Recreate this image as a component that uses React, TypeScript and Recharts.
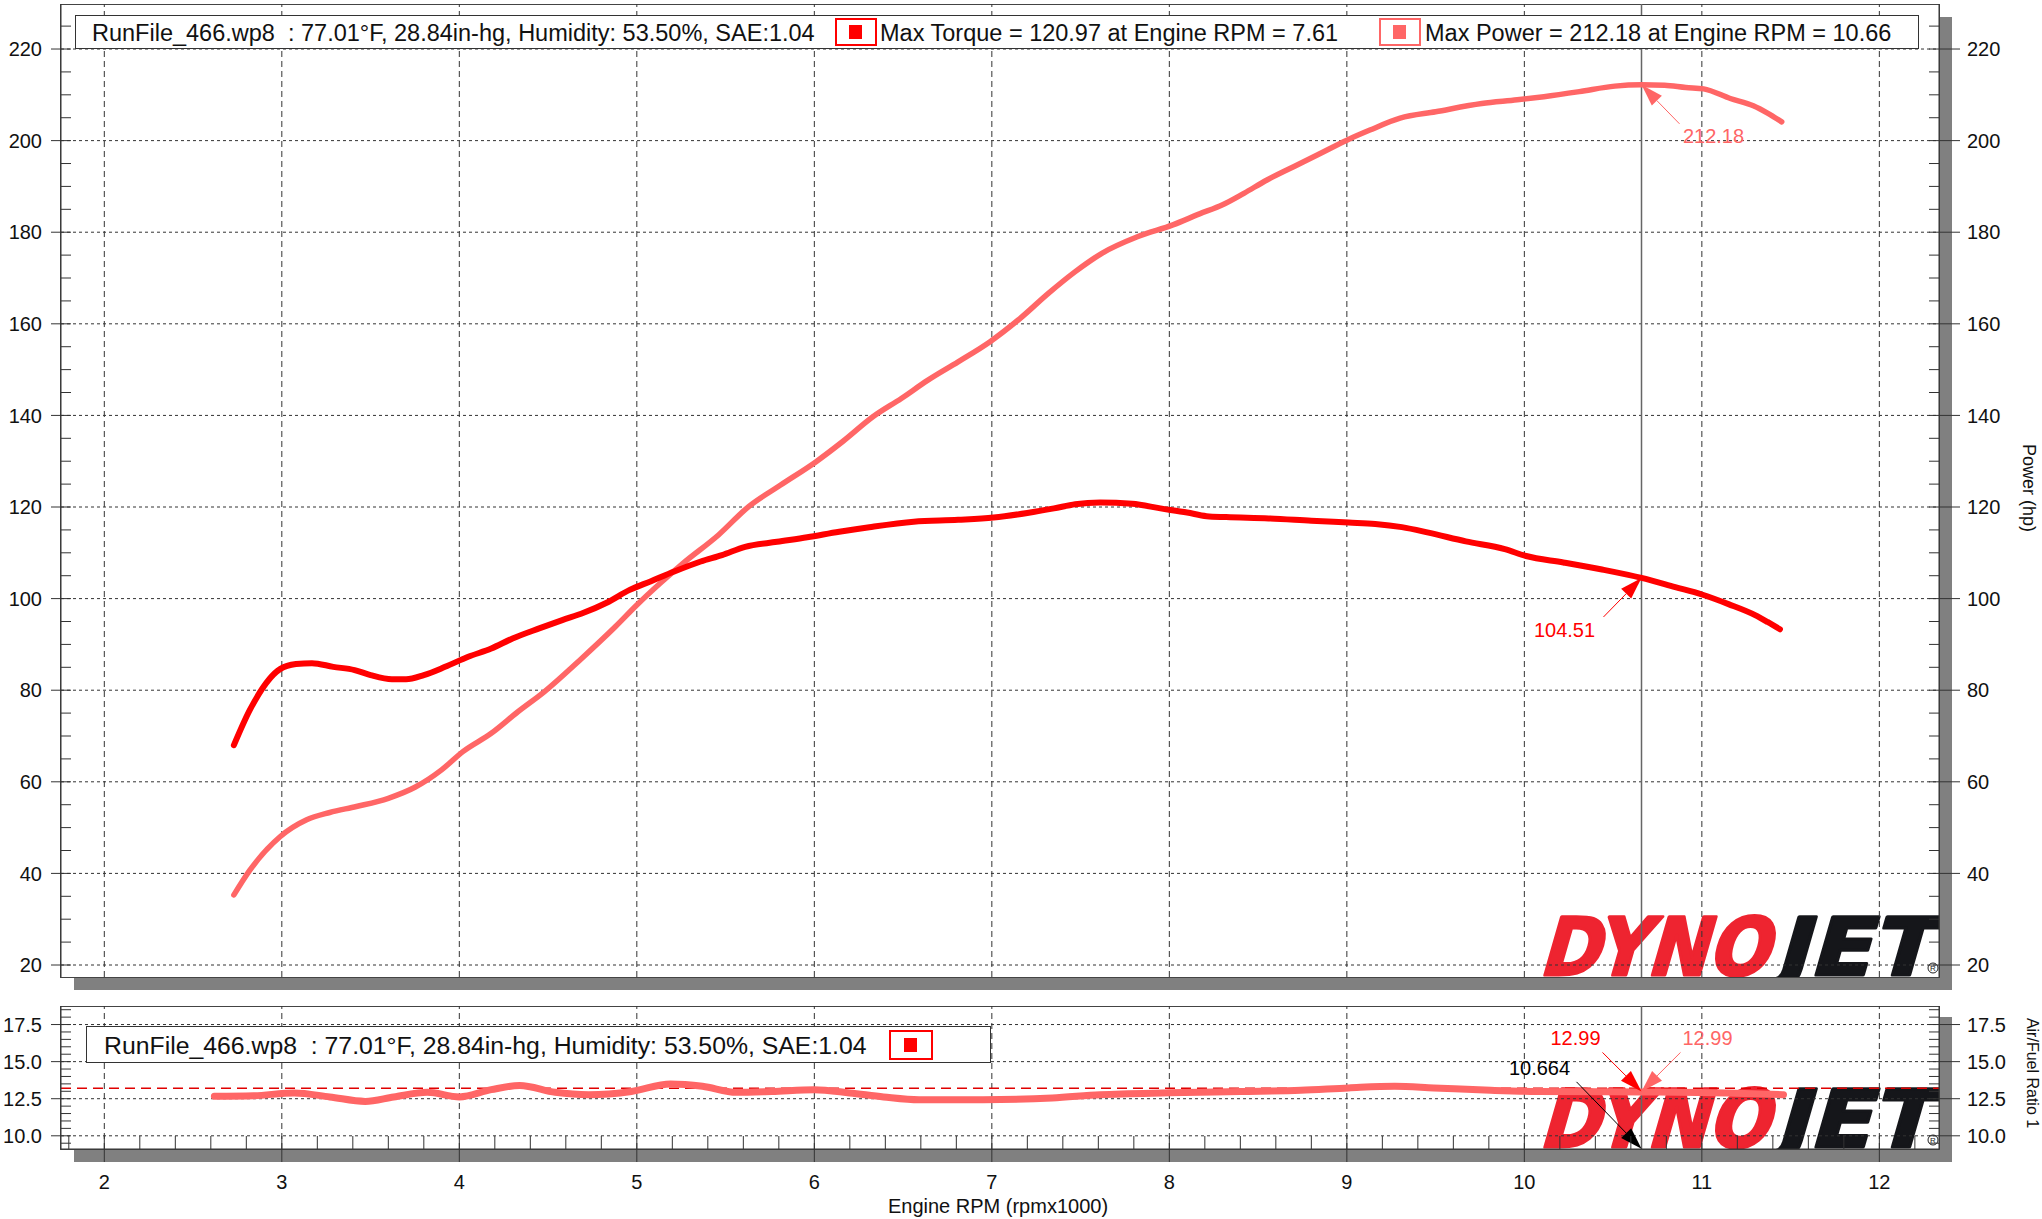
import React from "react";
import { LineChart, Line, XAxis, YAxis, ReferenceLine, ReferenceDot } from "recharts";

const FONT = '"Liberation Sans", Arial, sans-serif';

// torque (deep red)
const torqueRpm = [2.73, 2.82, 2.99, 3.08, 3.17, 3.29, 3.41, 3.5, 3.62, 3.7, 3.8, 3.92, 4.05, 4.18, 4.3, 4.45, 4.58, 4.7, 4.83, 4.96, 5.08, 5.21, 5.36, 5.48, 5.61, 5.79, 5.96, 6.14, 6.31, 6.56, 6.81, 7.01, 7.2, 7.35, 7.47, 7.61, 7.79, 7.95, 8.1, 8.21, 8.32, 8.56, 8.8, 9.01, 9.16, 9.31, 9.46, 9.67, 9.89, 10.01, 10.22, 10.43, 10.66, 10.85, 11.0, 11.15, 11.3, 11.37, 11.44];
const torqueVal = [68.0, 75.7, 84.6, 85.7, 85.9, 85.1, 84.4, 83.3, 82.4, 82.4, 83.3, 85.1, 87.3, 89.1, 91.3, 93.5, 95.3, 96.9, 99.1, 101.9, 103.8, 105.9, 108.1, 109.5, 111.3, 112.4, 113.4, 114.6, 115.6, 116.8, 117.2, 117.7, 118.7, 119.7, 120.6, 120.97, 120.7, 119.7, 118.8, 118.0, 117.8, 117.5, 117.0, 116.6, 116.3, 115.6, 114.4, 112.5, 110.8, 109.3, 107.9, 106.4, 104.51, 102.5, 100.9, 98.8, 96.4, 94.9, 93.3];

// power (light red)
const powerRpm = [2.73, 2.82, 2.99, 3.14, 3.27, 3.42, 3.6, 3.75, 3.9, 4.02, 4.18, 4.33, 4.48, 4.68, 4.88, 5.0, 5.13, 5.26, 5.46, 5.63, 5.81, 6.01, 6.16, 6.33, 6.49, 6.64, 6.81, 6.99, 7.16, 7.32, 7.47, 7.62, 7.82, 8.02, 8.17, 8.3, 8.42, 8.55, 8.7, 8.85, 9.0, 9.13, 9.3, 9.5, 9.76, 9.96, 10.11, 10.31, 10.51, 10.66, 10.79, 10.91, 11.01, 11.16, 11.29, 11.37, 11.45];
const powerVal = [35.3, 40.7, 48.0, 51.7, 53.3, 54.6, 56.4, 58.8, 62.6, 66.6, 70.6, 75.3, 79.7, 86.6, 93.9, 98.6, 103.3, 107.7, 113.9, 120.1, 124.8, 129.9, 134.3, 139.7, 143.7, 147.7, 151.7, 156.1, 161.2, 166.7, 171.4, 175.4, 179.0, 181.6, 184.0, 186.0, 188.5, 191.4, 194.3, 197.2, 200.1, 202.3, 204.9, 206.3, 208.1, 208.9, 209.6, 210.7, 211.9, 212.18, 212.1, 211.6, 211.3, 209.2, 207.6, 206.0, 204.1];

// air/fuel ratio, lower panel
const afrRpm = [2.62, 2.84, 3.07, 3.27, 3.47, 3.63, 3.82, 4.0, 4.18, 4.34, 4.54, 4.73, 4.97, 5.19, 5.37, 5.56, 5.76, 6.0, 6.2, 6.39, 6.59, 6.95, 7.34, 7.61, 8.0, 8.4, 8.74, 9.01, 9.27, 9.49, 9.81, 10.07, 10.66, 11.14, 11.46];
const afrVal = [12.66, 12.7, 12.89, 12.62, 12.32, 12.62, 12.93, 12.62, 13.11, 13.39, 12.93, 12.77, 12.99, 13.5, 13.34, 12.93, 12.99, 13.11, 12.89, 12.62, 12.43, 12.43, 12.55, 12.77, 12.9, 12.99, 13.07, 13.23, 13.34, 13.23, 13.07, 12.99, 12.96, 12.89, 12.77];

const rpmTicks = [2, 3, 4, 5, 6, 7, 8, 9, 10, 11, 12];
const hpTicks = [20, 40, 60, 80, 100, 120, 140, 160, 180, 200, 220];
const afrTicks = [10, 12.5, 15, 17.5];

const cursorRpm = 10.66;
const cursorRpmText = "10.664";
const cursorTorque = 104.51;
const cursorPower = 212.18;
const cursorAfr = 12.99;
const afrTarget = 13.2;

const runText = "RunFile_466.wp8  : 77.01°F, 28.84in-hg, Humidity: 53.50%, SAE:1.04";
const torqueLegend = "Max Torque = 120.97 at Engine RPM = 7.61";
const powerLegend = "Max Power = 212.18 at Engine RPM = 10.66";

const RED = "#ff0000";
const PINK = "#ff6666";
const GRID = "#333";

const X_DOMAIN: [number, number] = [1.756, 12.336];
const HP_DOMAIN: [number, number] = [17.38, 229.83];
const AFR_DOMAIN: [number, number] = [9.11, 18.75];

const torqueData = torqueRpm.map((r, i) => ({ rpm: r, v: torqueVal[i] }));
const powerData = powerRpm.map((r, i) => ({ rpm: r, v: powerVal[i] }));
const afrData = afrRpm.map((r, i) => ({ rpm: r, v: afrVal[i] }));

// minor tick positions
const hpMinor: number[] = [];
for (let v = 20; v <= 225; v += 5) hpMinor.push(v);
const afrMinor: number[] = [];
for (let v = 9.5; v <= 18.5; v += 0.5) afrMinor.push(v);
const rpmMinor: number[] = [];
for (let k = 9; k <= 61; k++) rpmMinor.push(Math.round(k * 20) / 100);

const isMajor = (list: number[], v: number) => list.some((t) => Math.abs(t - v) < 1e-6);

const Arrow = ({ tx, ty, fx, fy, color, head = 22, half = 7 }: any) => {
  const dx = tx - fx;
  const dy = ty - fy;
  const len = Math.hypot(dx, dy);
  const ux = dx / len;
  const uy = dy / len;
  const bx = tx - ux * head;
  const by = ty - uy * head;
  const px = -uy * half;
  const py = ux * half;
  return (
    <g>
      <line x1={fx} y1={fy} x2={bx} y2={by} stroke={color} strokeWidth={1} />
      <polygon points={`${tx},${ty} ${bx + px},${by + py} ${bx - px},${by - py}`} fill={color} />
    </g>
  );
};

const txt = { fontFamily: FONT, fontSize: 20, fill: "#111" };

const HpLeftTick = ({ x, y, payload }: any) => {
  const major = isMajor(hpTicks, payload.value);
  return (
    <g>
      <line x1={major ? x - 10 : x} x2={x + 10} y1={y} y2={y} stroke="#333" />
      {major && (
        <text x={x - 19} y={y} dy="0.36em" textAnchor="end" {...txt}>
          {payload.value}
        </text>
      )}
    </g>
  );
};

const HpRightTick = ({ x, y, payload }: any) => {
  const major = isMajor(hpTicks, payload.value);
  return (
    <g>
      <line x1={x - 10} x2={major ? x + 21 : x} y1={y} y2={y} stroke="#333" />
      {major && (
        <text x={x + 28} y={y} dy="0.36em" textAnchor="start" {...txt}>
          {payload.value}
        </text>
      )}
    </g>
  );
};

const AfrLeftTick = ({ x, y, payload }: any) => {
  const major = isMajor(afrTicks, payload.value);
  return (
    <g>
      <line x1={major ? x - 10 : x} x2={x + 10} y1={y} y2={y} stroke="#333" />
      {major && (
        <text x={x - 19} y={y} dy="0.36em" textAnchor="end" {...txt}>
          {payload.value.toFixed(1)}
        </text>
      )}
    </g>
  );
};

const AfrRightTick = ({ x, y, payload }: any) => {
  const major = isMajor(afrTicks, payload.value);
  return (
    <g>
      <line x1={x - 10} x2={major ? x + 21 : x} y1={y} y2={y} stroke="#333" />
      {major && (
        <text x={x + 28} y={y} dy="0.36em" textAnchor="start" {...txt}>
          {payload.value.toFixed(1)}
        </text>
      )}
    </g>
  );
};

const RpmTick = ({ x, y, payload }: any) => {
  const major = isMajor(rpmTicks, payload.value);
  return (
    <g>
      <line x1={x} x2={x} y1={y - 13} y2={major ? y + 13 : y} stroke="#333" />
      {major && (
        <text x={x} y={y + 33} dy="0.36em" textAnchor="middle" {...txt}>
          {payload.value}
        </text>
      )}
    </g>
  );
};

const TorqueMark = ({ cx, cy }: any) => (
  <g>
    <Arrow tx={cx} ty={cy} fx={cx - 38} fy={cy + 39} color={RED} />
    <text x={cx - 77} y={cy + 52} dy="0.36em" textAnchor="middle" {...txt} fill={RED}>
      {cursorTorque}
    </text>
  </g>
);

const PowerMark = ({ cx, cy }: any) => (
  <g>
    <Arrow tx={cx} ty={cy} fx={cx + 38} fy={cy + 39} color={PINK} />
    <text x={cx + 72} y={cy + 51} dy="0.36em" textAnchor="middle" {...txt} fill={PINK}>
      {cursorPower}
    </text>
  </g>
);

const AfrMark = ({ cx, cy }: any) => (
  <g>
    <Arrow tx={cx} ty={cy} fx={cx - 39} fy={cy - 39} color={RED} />
    <Arrow tx={cx} ty={cy} fx={cx + 39} fy={cy - 39} color={PINK} />
    <text x={cx - 66} y={cy - 54} dy="0.36em" textAnchor="middle" {...txt} fill={RED}>
      {cursorAfr}
    </text>
    <text x={cx + 66} y={cy - 54} dy="0.36em" textAnchor="middle" {...txt} fill={PINK}>
      {cursorAfr}
    </text>
  </g>
);

const RpmMark = ({ cx, cy }: any) => (
  <g>
    <Arrow tx={cx} ty={cy} fx={cx - 65} fy={cy - 67} color="#000" />
    <text x={cx - 102} y={cy - 81} dy="0.36em" textAnchor="middle" {...txt} fill="#000">
      {cursorRpmText}
    </text>
  </g>
);

const gridRpm = rpmTicks.map((v) => (
  <ReferenceLine key={"gx" + v} x={v} yAxisId="l" stroke={GRID} strokeDasharray="6 4" />
));

// logo sits behind the plot; the frame bottom trims its feet
const Logo = ({ top }: { top: number }) => (
  <svg style={{ position: "absolute", left: 1520, top: top - 20, width: 424, height: 100, overflow: "visible" }}>
    <g transform="skewX(-16)" strokeLinejoin="round">
      <text x={40} y={77} fontFamily="DejaVu Sans" fontWeight="bold" fontSize={80} fill="#ee2430" stroke="#ee2430" strokeWidth={3} textLength={230} lengthAdjust="spacingAndGlyphs">
        DYNO
      </text>
      <text x={276} y={77} fontFamily="DejaVu Sans" fontWeight="bold" fontSize={80} fill="#15161a" stroke="#15161a" strokeWidth={3} textLength={158} lengthAdjust="spacingAndGlyphs">
        JET
      </text>
    </g>
    <circle cx={413} cy={70} r={5} fill="#fff" stroke="#222" strokeWidth={1} />
    <text x={413} y={73} textAnchor="middle" fontSize={8} fontFamily={FONT} fill="#222">R</text>
  </svg>
);

const LegendIcon = ({ left, top, w, h, color }: any) => (
  <div style={{ position: "absolute", left, top, width: w, height: h, border: `2px solid ${color}`, boxSizing: "border-box", background: "#fff" }}>
    <div style={{ position: "absolute", left: (w - 4) / 2 - 7, top: (h - 4) / 2 - 7, width: 13, height: 14, background: color }} />
  </div>
);

const abs = (left: number, top: number, extra: any = {}) => ({ position: "absolute" as const, left, top, ...extra });

const App: React.FC = () => {
  return (
    <div style={{ position: "absolute", left: 0, top: 0, width: 2042, height: 1219, background: "#fff", fontFamily: FONT, overflow: "hidden" }}>
      <Logo top={918} />
      <Logo top={1090} />

      {/* masks below the frames so the logos stop at the plot edge */}
      <div style={abs(60, 977, { width: 1982, height: 29, background: "#fff" })} />
      <div style={abs(60, 1149, { width: 1982, height: 70, background: "#fff" })} />

      {/* drop shadows */}
      <div style={abs(1940, 17, { width: 12, height: 973, background: "#808080" })} />
      <div style={abs(74, 978, { width: 1878, height: 12, background: "#808080" })} />
      <div style={abs(1940, 1017, { width: 12, height: 145, background: "#808080" })} />
      <div style={abs(74, 1150, { width: 1878, height: 12, background: "#808080" })} />

      {/* frames */}
      <div style={abs(60, 4, { width: 1880, height: 974, border: "1px solid #444", boxSizing: "border-box" })} />
      <div style={abs(60, 1006, { width: 1880, height: 144, border: "1px solid #444", boxSizing: "border-box" })} />

      <div style={abs(0, 0)}>
        <LineChart width={2042} height={990} margin={{ top: 4, right: 0, bottom: 13, left: 0 }}>
          <XAxis dataKey="rpm" type="number" domain={X_DOMAIN} allowDataOverflow hide />
          <YAxis yAxisId="l" orientation="left" width={61} type="number" domain={HP_DOMAIN} allowDataOverflow ticks={hpMinor} interval={0} axisLine={{ stroke: "#333" }} tickLine={false} tickSize={0} tickMargin={0} tick={<HpLeftTick />} />
          <YAxis yAxisId="r" orientation="right" width={103} type="number" domain={HP_DOMAIN} allowDataOverflow ticks={hpMinor} interval={0} axisLine={{ stroke: "#333" }} tickLine={false} tickSize={0} tickMargin={0} tick={<HpRightTick />} />
          {gridRpm}
          {hpTicks.map((v) => (
            <ReferenceLine key={"gy" + v} y={v} yAxisId="l" stroke={GRID} strokeDasharray="3 3" />
          ))}
          <ReferenceLine x={cursorRpm} yAxisId="l" stroke="#666" strokeWidth={1.5} />
          <Line yAxisId="l" data={powerData} dataKey="v" type="monotone" stroke={PINK} strokeWidth={5.5} strokeLinecap="round" strokeLinejoin="round" dot={false} activeDot={false} isAnimationActive={false} />
          <Line yAxisId="l" data={torqueData} dataKey="v" type="monotone" stroke={RED} strokeWidth={6} strokeLinecap="round" strokeLinejoin="round" dot={false} activeDot={false} isAnimationActive={false} />
          <ReferenceDot yAxisId="l" x={cursorRpm} y={cursorTorque} r={0} shape={(p: any) => <TorqueMark {...p} />} />
          <ReferenceDot yAxisId="l" x={cursorRpm} y={cursorPower} r={0} shape={(p: any) => <PowerMark {...p} />} />
        </LineChart>
      </div>

      <div style={abs(0, 990)}>
        <LineChart width={2042} height={229} margin={{ top: 16, right: 0, bottom: 0, left: 0 }}>
          <XAxis dataKey="rpm" type="number" domain={X_DOMAIN} allowDataOverflow ticks={rpmMinor} interval={0} height={70} axisLine={{ stroke: "#333" }} tickLine={false} tickSize={0} tickMargin={0} tick={<RpmTick />} />
          <YAxis yAxisId="l" orientation="left" width={61} type="number" domain={AFR_DOMAIN} allowDataOverflow ticks={afrMinor} interval={0} axisLine={{ stroke: "#333" }} tickLine={false} tickSize={0} tickMargin={0} tick={<AfrLeftTick />} />
          <YAxis yAxisId="r" orientation="right" width={103} type="number" domain={AFR_DOMAIN} allowDataOverflow ticks={afrMinor} interval={0} axisLine={{ stroke: "#333" }} tickLine={false} tickSize={0} tickMargin={0} tick={<AfrRightTick />} />
          {gridRpm}
          {afrTicks.map((v) => (
            <ReferenceLine key={"ay" + v} y={v} yAxisId="l" stroke={GRID} strokeDasharray="3 3" />
          ))}
          <ReferenceLine y={afrTarget} yAxisId="l" stroke="#e00000" strokeWidth={1.5} strokeDasharray="10 6" />
          <ReferenceLine x={cursorRpm} yAxisId="l" stroke="#666" strokeWidth={1.5} />
          <Line yAxisId="l" data={afrData} dataKey="v" type="monotone" stroke={PINK} strokeWidth={7} strokeLinecap="round" strokeLinejoin="round" dot={false} activeDot={false} isAnimationActive={false} />
          <ReferenceDot yAxisId="l" x={cursorRpm} y={cursorAfr} r={0} shape={(p: any) => <AfrMark {...p} />} />
          <ReferenceDot yAxisId="l" x={cursorRpm} y={AFR_DOMAIN[0] + 0.01} r={0} shape={(p: any) => <RpmMark {...p} />} />
        </LineChart>
      </div>

      {/* legends */}
      <div style={abs(75, 15, { width: 1844, height: 34, border: "1px solid #333", boxSizing: "border-box", background: "#fff" })} />
      <div style={abs(92, 16, { height: 34, lineHeight: "34px", fontSize: 23.5, whiteSpace: "pre", color: "#111" })}>{runText}</div>
      <LegendIcon left={835} top={18} w={42} h={28} color={RED} />
      <div style={abs(880, 16, { height: 34, lineHeight: "34px", fontSize: 23.5, whiteSpace: "pre", color: "#111" })}>{torqueLegend}</div>
      <LegendIcon left={1379} top={18} w={42} h={28} color={PINK} />
      <div style={abs(1425, 16, { height: 34, lineHeight: "34px", fontSize: 23.5, whiteSpace: "pre", color: "#111" })}>{powerLegend}</div>

      <div style={abs(86, 1026, { width: 905, height: 37, border: "1px solid #333", boxSizing: "border-box", background: "#fff" })} />
      <div style={abs(104, 1027, { height: 37, lineHeight: "37px", fontSize: 24.8, whiteSpace: "pre", color: "#111" })}>{runText}</div>
      <LegendIcon left={889} top={1030} w={44} h={30} color={RED} />

      {/* axis titles */}
      <svg style={abs(0, 0, { width: 2042, height: 1219, pointerEvents: "none" })}>
        <text x={998} y={1206} dy="0.36em" textAnchor="middle" fontFamily={FONT} fontSize={20} fill="#111">
          Engine RPM (rpmx1000)
        </text>
        <text transform="translate(2029,488) rotate(90)" textAnchor="middle" dy="0.36em" fontFamily={FONT} fontSize={18} fill="#111">
          Power (hp)
        </text>
        <text transform="translate(2033,1073) rotate(90)" textAnchor="middle" dy="0.36em" fontFamily={FONT} fontSize={16} fill="#111">
          Air/Fuel Ratio 1
        </text>
      </svg>
    </div>
  );
};

export default App;
